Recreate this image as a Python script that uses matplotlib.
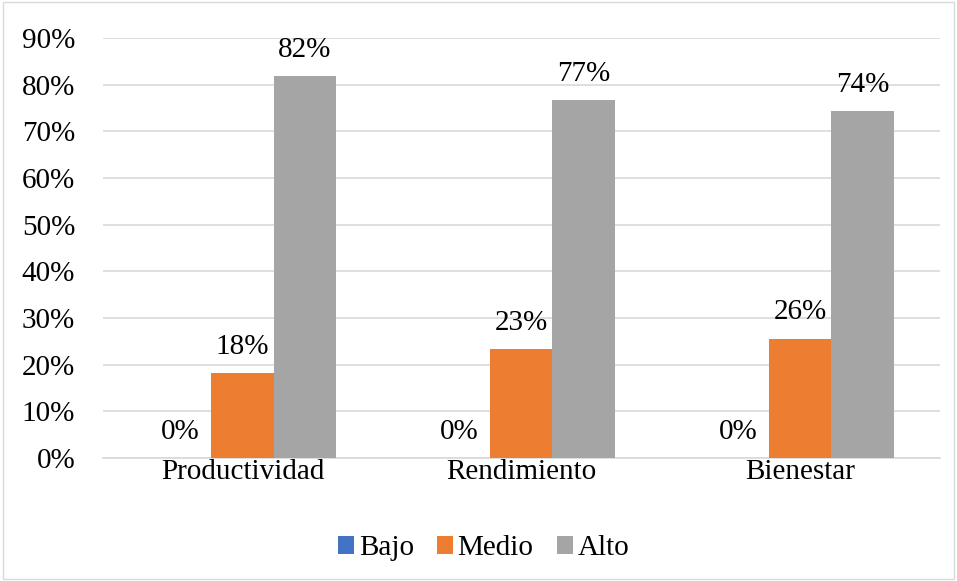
import numpy as np
import matplotlib.pyplot as plt
from matplotlib.patches import Rectangle

plt.rcParams['font.family'] = ['Liberation Serif', 'DejaVu Serif']

categories = ['Productividad', 'Rendimiento', 'Bienestar']
series = ['Bajo', 'Medio', 'Alto']
bajo = [0.0, 0.0, 0.0]
medio = [0.182, 0.233, 0.256]
alto = [0.818, 0.767, 0.744]
colors = ['#4472C4', '#ED7D31', '#A5A5A5']
yticks = np.arange(0, 1.0, 0.1)

fig = plt.figure(figsize=(9.57, 5.81), dpi=100)
ax = fig.add_axes([0.1076, 0.2117, 0.8744, 0.7229])

x = np.arange(len(categories))
w = 0.223
for i, (vals, col, name) in enumerate(zip([bajo, medio, alto], colors, series)):
    bars = ax.bar(x + (i - 1) * w, vals, w, color=col, label=name, zorder=3)
    for b, v in zip(bars, vals):
        ax.text(b.get_x() + b.get_width() / 2, v + 0.028, f'{v * 100:.0f}%',
                ha='center', va='bottom', fontsize=21)

ax.set_xlim(-0.5, 2.5)
ax.set_ylim(0, 0.9)
ax.set_yticks(yticks)
ax.set_yticklabels([f'{t * 100:.0f}%' for t in yticks], fontsize=21)
ax.set_xticks(x)
ax.set_xticklabels(categories, fontsize=21)
ax.tick_params(axis='y', length=0, pad=20)
ax.tick_params(axis='x', length=0, pad=1)
ax.grid(axis='y', color='#d9d9d9', linewidth=1.2, zorder=0)
for s in ['top', 'right', 'left']:
    ax.spines[s].set_visible(False)
ax.spines['bottom'].set_color('#d9d9d9')
ax.spines['bottom'].set_linewidth(1.2)

ax.legend(loc='center', bbox_to_anchor=(0.455, -0.215), ncol=3, frameon=False,
          fontsize=21, handlelength=0.55, handleheight=0.55, handletextpad=0.15,
          columnspacing=0.8)

fig.patches.append(Rectangle((0.003, 0.003), 0.994, 0.994, transform=fig.transFigure,
                             fill=False, edgecolor='#d9d9d9', linewidth=1))

fig.savefig('out.png', dpi=100)
